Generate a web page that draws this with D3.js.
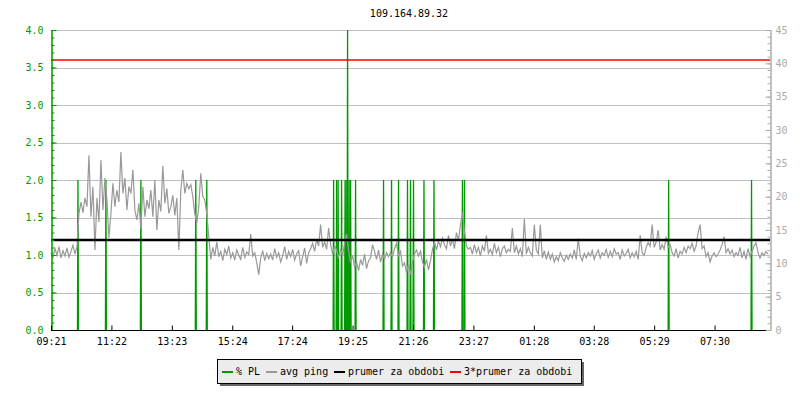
<!DOCTYPE html>
<html>
<head>
<meta charset="utf-8">
<script src="https://cdn.jsdelivr.net/npm/d3@7"></script>
<style>
  body { margin: 0; background: #fff; }
  svg text { font-family: "DejaVu Sans Mono", monospace; font-size: 10px; }
</style>
</head>
<body>
<svg id="chart" width="800" height="400"></svg>
<script>
// time axis: minutes from 09:21, one ping sample every 4 minutes
var title = "109.164.89.32";
var tickMinutes = [0, 121, 242, 363, 483, 604, 725, 846, 967, 1087, 1208, 1329];
var tickLabels = ["09:21", "11:22", "13:23", "15:24", "17:24", "19:25", "21:26", "23:27", "01:28", "03:28", "05:29", "07:30"];
var sampleStep = 4;

// avg ping [ms], right axis
var avgPing = [
  11.6,10.9,12.2,11.2,12.5,10.8,11.9,11.1,12.3,10.9,
  11.8,12.7,11.4,12.5,17.5,19.2,17.6,19.8,18.5,26.2,
  17.0,21.5,12.0,19.8,16.2,25.5,18.0,22.8,19.5,13.8,
  17.5,22.0,18.5,21.0,19.2,26.7,20.5,22.8,18.0,21.5,
  20.5,24.0,18.0,16.5,19.0,15.2,21.5,17.0,19.5,18.2,
  21.0,17.0,22.5,15.0,19.5,17.8,24.6,19.0,21.2,17.5,
  18.5,20.2,17.2,19.8,12.0,21.0,24.0,20.5,22.0,21.2,
  21.8,20.0,17.5,16.0,18.5,23.5,20.0,19.5,17.5,14.0,
  10.6,12.4,11.1,13.2,11.0,11.8,10.4,12.1,11.3,12.6,
  10.8,11.6,10.5,12.0,11.2,10.6,12.4,10.9,11.7,11.3,
  14.4,11.1,11.6,10.1,8.3,10.8,11.9,10.4,11.5,10.7,
  11.4,10.5,12.2,10.9,11.6,10.2,11.1,12.5,10.6,11.8,
  11.0,12.1,10.5,11.4,11.9,9.6,11.0,12.3,10.0,11.6,
  12.2,13.0,11.8,13.6,12.6,15.8,12.4,13.2,12.1,15.3,
  12.8,11.4,12.6,12.0,10.8,12.2,11.1,13.1,14.4,11.9,
  10.1,11.2,9.4,10.2,8.9,10.6,9.7,11.4,9.2,10.4,
  10.8,12.8,11.8,10.6,12.0,10.2,11.4,10.6,11.6,11.0,
  11.6,11.0,12.2,13.0,11.2,11.8,9.6,10.1,8.6,9.8,
  8.3,10.2,11.4,12.0,11.1,11.8,10.2,9.4,10.6,9.0,
  10.4,12.1,13.2,12.0,13.4,12.5,13.8,12.8,12.2,14.2,
  12.6,13.6,12.2,14.6,13.4,15.7,17.6,14.8,12.6,12.1,
  12.4,11.4,12.8,11.6,12.4,11.1,12.6,11.8,14.2,11.5,
  12.1,11.3,13.0,11.6,12.4,11.0,12.2,12.6,11.6,12.1,
  11.8,15.3,11.6,12.6,11.4,12.2,11.0,16.7,11.4,12.4,
  11.6,11.1,15.8,12.0,11.4,15.8,10.8,11.9,10.6,11.7,
  10.6,11.4,10.2,11.0,10.4,11.6,10.8,10.3,11.2,10.6,
  11.4,10.8,12.0,10.6,13.7,11.1,10.4,11.5,10.8,11.6,
  11.1,11.9,10.6,11.4,12.0,10.8,11.6,11.2,12.1,10.9,
  11.8,11.0,12.2,11.4,11.6,10.6,12.0,11.1,11.5,12.1,
  10.8,11.6,11.0,11.8,10.6,14.2,11.6,11.2,12.4,13.1,
  12.6,15.8,12.4,13.2,15.0,12.0,12.8,12.1,14.0,12.4,
  12.8,11.6,11.1,12.2,10.8,11.8,11.4,12.4,11.6,12.6,
  12.2,13.0,11.8,12.6,14.6,15.8,12.2,12.6,11.0,11.6,
  10.2,11.1,11.6,11.0,11.4,12.0,12.8,14.0,11.6,12.2,
  11.4,12.0,11.0,11.6,11.2,12.4,10.8,11.8,10.6,12.2,
  11.0,11.8,12.6,13.1,11.6,10.8,11.6,11.2,11.8,11.4
];

// packet loss events: minute offset and % PL, left axis
var plMinutes = [54, 110, 180, 290, 312, 566, 572, 575, 582, 589, 591, 594, 597, 600, 610,
                 666, 682, 696, 714, 720, 726, 747, 767, 824, 828, 1237, 1403];
var plValues  = [2, 2, 2, 2, 2, 2, 2, 2, 2, 2, 2, 4, 2, 2, 2,
                 2, 2, 2, 2, 2, 2, 2, 2, 2, 2, 2, 2];

var avgPeriod = 13.5;      // prumer za obdobi [ms]
var avgPeriod3 = 3 * avgPeriod;

var legendNames = ["% PL", "avg ping", "prumer za obdobi", "3*prumer za obdobi"];
var legendColors = ["#009900", "#999999", "#000000", "#ff0000"];

var svg = d3.select("#chart");
var plotL = 51, plotR = 770, plotT = 30, plotB = 330;

var x = d3.scaleLinear().domain([0, 1440]).range([plotL, plotR]);
var yL = d3.scaleLinear().domain([0, 4]).range([plotB, plotT]);
var yR = d3.scaleLinear().domain([0, 45]).range([plotB, plotT]);

svg.append("text").attr("x", 409).attr("y", 17).attr("text-anchor", "middle")
  .attr("fill", "#000").text(title);

// grid
svg.append("g").selectAll("line").data(d3.range(0.5, 4.01, 0.5)).enter().append("line")
  .attr("x1", plotL).attr("x2", plotR)
  .attr("y1", function(d){ return Math.round(yL(d)) + 0.5; })
  .attr("y2", function(d){ return Math.round(yL(d)) + 0.5; })
  .attr("stroke", "#c0c0c0");

// % PL spikes
var plLine = d3.line().x(function(d){ return x(d[0]); }).y(function(d){ return yL(d[1]); });
svg.append("g").selectAll("path").data(plMinutes).enter().append("path")
  .attr("d", function(m, i){ return plLine([[m - 1, 0], [m, plValues[i]], [m + 1, 0]]); })
  .attr("fill", "none").attr("stroke", "#009900").attr("stroke-width", 1.3);

// avg ping
var pingLine = d3.line().x(function(d, i){ return x(i * sampleStep); }).y(function(d){ return yR(d); });
svg.append("path").datum(avgPing).attr("d", pingLine)
  .attr("fill", "none").attr("stroke", "#999999").attr("stroke-width", 1.2);

// averages
svg.append("line").attr("x1", plotL).attr("x2", plotR)
  .attr("y1", yR(avgPeriod)).attr("y2", yR(avgPeriod))
  .attr("stroke", "#000").attr("stroke-width", 2.5);
svg.append("line").attr("x1", plotL).attr("x2", plotR)
  .attr("y1", yR(avgPeriod3)).attr("y2", yR(avgPeriod3))
  .attr("stroke", "#ff0000").attr("stroke-width", 1.5);

// axes
var gL = svg.append("g").attr("transform", "translate(" + (plotL + 0.5) + ",0)");
gL.call(d3.axisLeft(yL).tickValues(d3.range(0, 4.01, 0.1)).tickSize(-3).tickFormat(""));
gL.append("g").call(d3.axisLeft(yL).tickValues(d3.range(0, 4.01, 0.5)).tickSize(-5).tickSizeOuter(0).tickPadding(8).tickFormat(d3.format(".1f")));
gL.selectAll("path,line").attr("stroke", "#009900");
gL.selectAll("text").attr("fill", "#009900").style("font-size", "10px").style("font-family", "DejaVu Sans Mono");

var gR = svg.append("g").attr("transform", "translate(" + (plotR + 0.5) + ",0)");
gR.call(d3.axisRight(yR).tickValues(d3.range(0, 46, 1)).tickSize(-3).tickFormat(""));
gR.append("g").call(d3.axisRight(yR).tickValues(d3.range(0, 46, 5)).tickSize(-5).tickSizeOuter(0).tickPadding(5));
gR.selectAll("path,line").attr("stroke", "#aaaaaa");
gR.selectAll("text").attr("fill", "#aaaaaa").style("font-size", "10px").style("font-family", "DejaVu Sans Mono");

var gX = svg.append("g").attr("transform", "translate(0," + (plotB + 0.5) + ")");
gX.call(d3.axisBottom(x).tickValues(tickMinutes).tickSize(-5).tickSizeOuter(0).tickPadding(7)
  .tickFormat(function(d, i){ return tickLabels[i]; }));
gX.select(".domain").attr("d", "M" + plotL + ",0H" + (plotR - 4));
gX.selectAll("path,line").attr("stroke", "#000");
gX.selectAll("text").attr("fill", "#000").style("font-size", "10px").style("font-family", "DejaVu Sans Mono");

// legend
var lg = svg.append("g");
lg.append("rect").attr("x", 220).attr("y", 362).attr("width", 364).attr("height", 24).attr("fill", "#666");
lg.append("rect").attr("x", 217.5).attr("y", 359.5).attr("width", 364).attr("height", 24)
  .attr("fill", "#ececec").attr("stroke", "#000");
var lx = [222, 266, 334, 450];
legendNames.forEach(function(name, i){
  lg.append("line").attr("x1", lx[i]).attr("x2", lx[i] + 11).attr("y1", 372).attr("y2", 372)
    .attr("stroke", legendColors[i]).attr("stroke-width", 2);
  lg.append("text").attr("x", lx[i] + 14).attr("y", 375).attr("fill", "#000").text(name);
});
</script>
</body>
</html>
